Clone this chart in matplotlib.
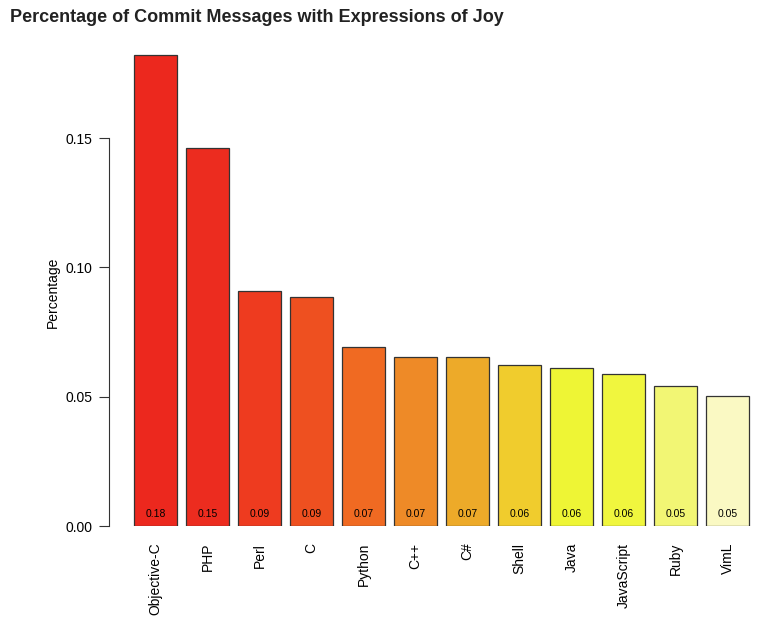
import matplotlib
matplotlib.use("Agg")
import matplotlib.pyplot as plt
import numpy as np

plt.rcParams['font.family'] = ['Liberation Sans', 'DejaVu Sans']

# data
languages = ['Objective-C', 'PHP', 'Perl', 'C', 'Python', 'C++', 'C#',
             'Shell', 'Java', 'JavaScript', 'Ruby', 'VimL']
joy_pct = [0.1821, 0.1464, 0.0910, 0.0884, 0.0693, 0.0655, 0.0652,
           0.0621, 0.0610, 0.0587, 0.0540, 0.0502]
bar_colors = ['#EC281E', '#EC2C1F', '#EE3B1F', '#EE5020', '#F06A22', '#EE8A27',
              '#EDAA29', '#F0CC2D', '#EEF535', '#F0F63E', '#F2F674', '#FAF9C3']
y_ticks = [0.00, 0.05, 0.10, 0.15]

W, H = 768, 629
fig = plt.figure(figsize=(W / 100, H / 100), dpi=100)

# axes placed in pixels: left spine at x=109, y=0 at 526 px
ax_left, ax_right, ax_bottom, ax_top = 109, 760, 526, 49
ax = fig.add_axes([ax_left / W, (H - ax_bottom) / H,
                   (ax_right - ax_left) / W, (ax_bottom - ax_top) / H])

# R barplot style positions: width 1, space 0.2
x = 0.7 + 1.2 * np.arange(len(languages))
ax.bar(x, joy_pct, width=1.0, color=bar_colors, edgecolor='#333333', linewidth=0.9)

for xi, v in zip(x, joy_pct):
    ax.text(xi, 0.0046, f'{v:.2f}', ha='center', va='center', fontsize=7.5, color='black')

ax.set_xlim(-0.377, 14.647)
ax.set_ylim(0, 0.1845)

ax.set_yticks(y_ticks)
ax.set_yticklabels([f'{t:.2f}' for t in y_ticks], fontsize=10)
ax.tick_params(axis='y', length=7, width=0.8, color='#333333', pad=5)

ax.set_xticks(x)
ax.set_xticklabels(languages, rotation=90, fontsize=10, va='top', ha='center')
ax.tick_params(axis='x', length=0, pad=12)

for s in ['top', 'right', 'bottom']:
    ax.spines[s].set_visible(False)
ax.spines['left'].set_bounds(0, 0.15)
ax.spines['left'].set_color('#333333')
ax.spines['left'].set_linewidth(0.8)

ax.set_ylabel('Percentage', fontsize=10)
ax.yaxis.set_label_coords(-0.075, 0.49)

fig.text(10 / W, 1 - 17 / H, 'Percentage of Commit Messages with Expressions of Joy',
         fontsize=13, fontweight='bold', ha='left', va='center', color='#222222')

fig.savefig('out.png', dpi=100)
